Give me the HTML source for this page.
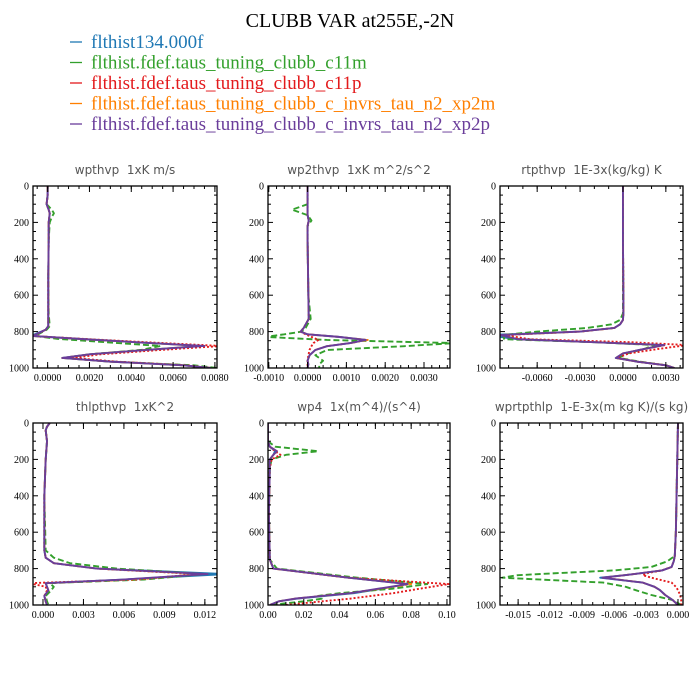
<!DOCTYPE html>
<html><head><meta charset="utf-8"><style>
body{margin:0;background:#fff;}
svg{display:block;}
</style></head><body>
<svg id="chart" width="700" height="700" viewBox="0 0 700 700" xmlns="http://www.w3.org/2000/svg">
<rect width="700" height="700" fill="#fff"/>
<text x="350" y="27" text-anchor="middle" font-family="Liberation Serif, serif" font-size="20" fill="#000">CLUBB VAR at255E,-2N</text>
<g id="legend"></g>
<g id="panels"></g>
</svg>
<script>
const seriesNames = ["flthist134.000f","flthist.fdef.taus_tuning_clubb_c11m","flthist.fdef.taus_tuning_clubb_c11p","flthist.fdef.taus_tuning_clubb_c_invrs_tau_n2_xp2m","flthist.fdef.taus_tuning_clubb_c_invrs_tau_n2_xp2p"];
const seriesColors = ["#1f78b4","#33a02c","#e31a1c","#ff7f00","#6a3d9a"];
const seriesDash = ["", "6,3", "2,2", "6,2,2,2", ""];

const panelTitles = ["wpthvp  1xK m/s","wp2thvp  1xK m^2/s^2","rtpthvp  1E-3x(kg/kg) K","thlpthvp  1xK^2","wp4  1x(m^4)/(s^4)","wprtpthlp  1-E-3x(m kg K)/(s kg)"];
const xDomains = [[-0.0007,0.0081],[-0.00102,0.00367],[-0.0086,0.0042],[-0.00074,0.0129],[0,0.1017],[-0.0167,0.00047]];
const xTickLabels = [["0.0000","0.0020","0.0040","0.0060","0.0080"],["-0.0010","0.0000","0.0010","0.0020","0.0030"],["-0.0060","-0.0030","0.0000","0.0030"],["0.000","0.003","0.006","0.009","0.012"],["0.00","0.02","0.04","0.06","0.08","0.10"],["-0.015","-0.012","-0.009","-0.006","-0.003","0.000"]];
const xMinorSteps = [0.0005,0.0002,0.001,0.001,0.005,0.001];
const yTickLabels = ["0","200","400","600","800","1000"];

// panel 1 wpthvp
const lev1 = [0,50,100,130,150,170,200,300,500,700,770,790,824,840,860,879,900,925,945,965,985,1000];
const p1blue =   [0,0,-0.00005,0.00005,0.0001,0.00008,0.00005,0.00005,0.00003,0.00003,0.00003,-0.0001,-0.0008,0.0015,0.0045,0.0073,0.0048,0.002,0.0007,0.003,0.0065,0.0078];
const p1green =  [0,0,-0.00005,0.0002,0.0003,0.0002,0.0001,0.00005,0.00003,0.00005,0.0001,-0.00005,-0.0006,0.0005,0.003,0.0054,0.0045,0.002,0.0008,0.003,0.007,0.0081];
const p1red =    [0,0,-0.00005,0.00005,0.0001,0.00008,0.00005,0.00005,0.00003,0.00003,0.00003,-0.0001,-0.0007,0.0017,0.005,0.0083,0.0055,0.0025,0.0012,0.0033,0.0066,0.0078];
const p1orange = [0,0,-0.00005,0.00005,0.0001,0.00008,0.00005,0.00005,0.00003,0.00003,0.00003,-0.0001,-0.0007,0.0015,0.0045,0.0074,0.0048,0.002,0.0007,0.003,0.0065,0.0078];
const p1purple = [0,0,-0.00005,0.00005,0.0001,0.00008,0.00005,0.00005,0.00003,0.00003,0.00003,-0.0001,-0.0007,0.0015,0.0045,0.0075,0.0048,0.002,0.0007,0.003,0.0065,0.0078];
// panel 2 wp2thvp
const lev2 = [0,100,130,160,190,220,300,600,730,780,800,815,829,846,863,880,901,930,960,980,1000];
const p2blue =   [0,0,0,0,0.00003,0,0,0.00002,0.00003,-0.0001,-0.00018,0,0.0008,0.0015,0.0011,0.0005,0.0002,0.00005,0,0.00002,0];
const p2green =  [0,0,-0.0004,0,0.0001,0,0,0.00002,0.00008,-0.00005,-0.00015,-0.0006,-0.0011,0.0005,0.0038,0.0025,0.0005,0.0002,0.0004,0.0003,0.0003];
const p2red =    [0,0,0,0,0.00003,0,0,0.00002,0.00003,-0.0001,-0.00018,-0.00005,0.0001,0.00028,0.00015,0.0001,0.00005,0.00002,0,0,0];
const p2orange = [0,0,0,0,0.00003,0,0,0.00002,0.00003,-0.0001,-0.00018,0,0.0008,0.00155,0.0011,0.0005,0.0002,0.00005,0,0.00002,0];
const p2purple = [0,0,0,0,0.00003,0,0,0.00002,0.00003,-0.0001,-0.00018,0,0.0008,0.0015,0.0011,0.0005,0.0002,0.00005,0,0.00002,0];
// panel 3 rtpthvp
const lev3 = [0,300,600,700,736,760,780,800,819,842,858,874,895,920,945,965,985,1000];
const p3blue =   [0,0,0.00003,0.00003,0,-0.0002,-0.0006,-0.003,-0.0095,-0.0074,-0.002,0.0028,0.0015,0,-0.0005,0.001,0.003,0.0036];
const p3green =  [0,0,0,0,-0.0002,-0.0008,-0.0025,-0.006,-0.0084,-0.0083,-0.002,0.0022,0.0015,0.0003,-0.0003,0.0012,0.003,0.0036];
const p3red =    [0,0,0.00003,0.00003,0,-0.0002,-0.0006,-0.003,-0.0083,-0.0065,0.0005,0.0045,0.0025,0.0004,-0.0004,0.001,0.003,0.0036];
const p3orange = [0,0,0.00003,0.00003,0,-0.0002,-0.0006,-0.003,-0.0086,-0.0072,-0.002,0.0030,0.0015,0,-0.0005,0.001,0.003,0.0036];
const p3purple = [0,0,0.00003,0.00003,0,-0.0002,-0.0006,-0.003,-0.0086,-0.0073,-0.002,0.0029,0.0015,0,-0.0005,0.001,0.003,0.0036];
// panel 4 thlpthvp
const lev4 = [0,20,40,100,200,400,700,740,770,800,830,860,880,900,920,950,980,1000];
const p4blue =   [0.0005,0.0003,0.0002,0.0003,0.0002,0.0001,0.0001,0.0002,0.0008,0.004,0.0135,0.006,0.0002,0.0003,0.0004,0.0001,0.0002,0.0003];
const p4green =  [0.0005,0.0003,0.0002,0.0003,0.0002,0.0001,0.0002,0.0008,0.002,0.0055,0.012,0.0075,0.0005,0.0008,0.0006,0.0002,0.0003,0.0004];
const p4red =    [0.0005,0.0003,0.0002,0.0003,0.0002,0.0001,0.0001,0.0002,0.0008,0.004,0.0115,0.007,-0.001,0.0002,0.0003,0.0001,0.0002,0.0003];
const p4orange = [0.0005,0.0003,0.0002,0.0003,0.0002,0.0001,0.0001,0.0002,0.0008,0.004,0.0118,0.0065,0.0002,0.0003,0.0004,0.0001,0.0002,0.0003];
const p4purple = [0.0005,0.0003,0.0002,0.0003,0.0002,0.0001,0.0001,0.0002,0.0008,0.004,0.0122,0.006,0.0002,0.0003,0.0004,0.0001,0.0002,0.0003];
// panel 5 wp4
const lev5 = [0,100,130,155,175,200,250,500,750,800,850,885,910,935,950,965,980,1000];
const p5blue =   [0,0,0.001,0.004,0.003,0.001,0.001,0.0005,0.001,0.003,0.045,0.078,0.064,0.048,0.032,0.016,0.006,0.001];
const p5green =  [0,0,0.004,0.028,0.01,0.002,0.001,0.0005,0.001,0.005,0.05,0.089,0.07,0.04,0.028,0.03,0.02,0.001];
const p5red =    [0,0,0.001,0.004,0.007,0.002,0.001,0.0005,0.001,0.003,0.045,0.101,0.085,0.07,0.058,0.046,0.03,0.01];
const p5orange = [0,0,0.001,0.005,0.003,0.001,0.001,0.0005,0.001,0.003,0.045,0.08,0.063,0.046,0.03,0.015,0.006,0.001];
const p5purple = [0,0,0.001,0.005,0.003,0.001,0.001,0.0005,0.001,0.003,0.045,0.078,0.062,0.046,0.03,0.015,0.006,0.001];
// panel 6 wprtpthlp
const lev6 = [0,300,600,730,760,791,810,824,836,850,877,900,918,945,973,1000];
const p6blue =   [0,-0.0001,-0.0002,-0.0003,-0.0004,-0.0006,-0.0015,-0.0033,-0.005,-0.0073,-0.0033,-0.0022,-0.0017,-0.0012,-0.0005,0];
const p6green =  [0,-0.0001,-0.0002,-0.0003,-0.001,-0.0025,-0.006,-0.011,-0.015,-0.0165,-0.007,-0.0049,-0.004,-0.0025,-0.0005,0.0003];
const p6red =    [0,-0.0001,-0.0002,-0.0003,-0.0004,-0.0006,-0.0015,-0.0028,-0.0033,-0.0025,-0.0006,-0.0002,0,0.0002,0.0003,0.0003];
const p6orange = [0,-0.0001,-0.0002,-0.0003,-0.0004,-0.0006,-0.0015,-0.0033,-0.005,-0.007,-0.0033,-0.0022,-0.0017,-0.0012,-0.0005,0];
const p6purple = [0,-0.0001,-0.0002,-0.0003,-0.0004,-0.0006,-0.0015,-0.0033,-0.005,-0.0071,-0.0033,-0.0022,-0.0017,-0.0012,-0.0005,0];

const panelLevels = [lev1,lev2,lev3,lev4,lev5,lev6];
const panelSeries = [[p1blue,p1green,p1red,p1orange,p1purple],[p2blue,p2green,p2red,p2orange,p2purple],[p3blue,p3green,p3red,p3orange,p3purple],[p4blue,p4green,p4red,p4orange,p4purple],[p5blue,p5green,p5red,p5orange,p5purple],[p6blue,p6green,p6red,p6orange,p6purple]];

const NS="http://www.w3.org/2000/svg";
function mk(tag, attrs, parent){const e=document.createElementNS(NS,tag);for(const k in attrs)e.setAttribute(k,attrs[k]);if(parent)parent.appendChild(e);return e;}
const svg=document.getElementById('chart');
const legend=document.getElementById('legend');
seriesNames.forEach((n,i)=>{
  const y=42+i*20.5;
  const ln=mk('line',{x1:70,x2:82,y1:y,y2:y,stroke:seriesColors[i],'stroke-width':1.3},legend);
  
  
  const t=mk('text',{x:91,y:y+6,'font-family':'Liberation Serif, serif','font-size':19,fill:seriesColors[i]},legend);
  t.textContent=n;
  
  
});
const boxX=[[33,217],[268,450],[500,683]];
const boxY=[[186,368],[423,605]];
const panelsG=document.getElementById('panels');
for(let p=0;p<6;p++){
  const col=p%3,row=Math.floor(p/3);
  const x0=boxX[col][0],x1=boxX[col][1],y0=boxY[row][0],y1=boxY[row][1];
  const [d0,d1]=xDomains[p];
  const sx=v=>x0+(v-d0)/(d1-d0)*(x1-x0);
  const sy=v=>y0+v/1000*(y1-y0);
  const g=mk('g',{},panelsG);
  
  
  const tt=mk('text',{x:(x0+x1)/2,y:y0-12,'text-anchor':'middle','font-family':'DejaVu Sans, sans-serif','font-size':12,fill:'#555'},g);
  tt.textContent=panelTitles[p].replace(/  /g,'\u00a0\u00a0');
  
  
  mk('clipPath',{id:'c'+p},g).appendChild(mk('rect',{x:x0,y:y0,width:x1-x0,height:y1-y0}));
  const lg=mk('g',{'clip-path':'url(#c'+p+')'},g);
  const lev=panelLevels[p];
  panelSeries[p].forEach((vals,si)=>{
    const pts=vals.map((v,k)=>sx(v).toFixed(2)+','+sy(lev[k]).toFixed(2)).join(' ');
    const pl=mk('polyline',{points:pts,fill:'none',stroke:seriesColors[si],'stroke-width':1.9,'stroke-dasharray':seriesDash[si]||'none','stroke-linejoin':'round'},lg);
    
    
  });
  const ax=mk('g',{stroke:'#000','stroke-width':1},g);
  
  
  mk('rect',{x:x0,y:y0,width:x1-x0,height:y1-y0,fill:'none','stroke-width':1.3},ax);
  for(let v=0;v<=1000;v+=50){
    const y=sy(v),L=(v%200===0)?5:3;
    mk('line',{x1:x0,x2:x0+L,y1:y,y2:y},ax);
    mk('line',{x1:x1,x2:x1-L,y1:y,y2:y},ax);
  }
  yTickLabels.forEach(s=>{
    const t=mk('text',{x:x0-4,y:sy(parseFloat(s))+3.5,'text-anchor':'end','font-family':'Liberation Serif, serif','font-size':10,fill:'#000',stroke:'none'},g);
    t.textContent=s;
    
    
  });
  const ms=xMinorSteps[p];
  for(let k=Math.ceil(d0/ms);k*ms<=d1+1e-12;k++){
    const v=k*ms,x=sx(v);
    if(x<x0-0.1||x>x1+0.1)continue;
    mk('line',{x1:x,x2:x,y1:y1,y2:y1-3},ax);
    mk('line',{x1:x,x2:x,y1:y0,y2:y0+3},ax);
  }
  xTickLabels[p].forEach(s=>{
    const x=sx(parseFloat(s));
    mk('line',{x1:x,x2:x,y1:y1,y2:y1-6},ax);
    mk('line',{x1:x,x2:x,y1:y0,y2:y0+6},ax);
    const t=mk('text',{x:x,y:y1+13,'text-anchor':'middle','font-family':'Liberation Serif, serif','font-size':10,fill:'#000'},g);
    t.textContent=s;
    
    
  });
}
</script>
</body></html>
